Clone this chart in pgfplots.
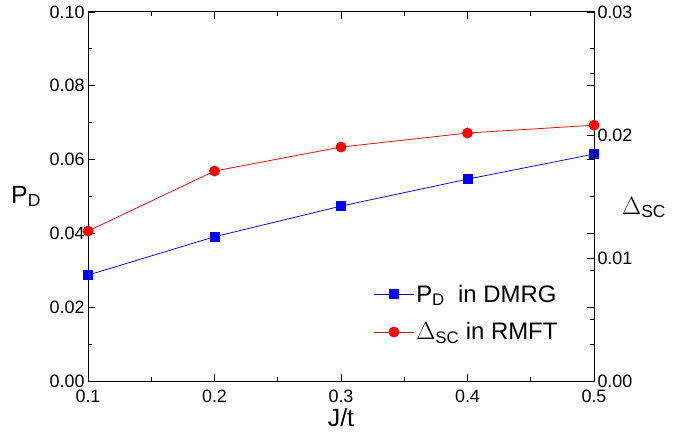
\documentclass[border=0pt]{standalone}
\usepackage{fontspec}
\setmainfont{Liberation Sans}
\usepackage{pgfplots}
\pgfplotsset{compat=1.18}
\begin{document}
\begin{tikzpicture}
\pgfplotsset{
  common/.style={
    scale only axis, width=506bp, height=369bp,
    at={(0,0)}, anchor=south west,
    xmin=0.1, xmax=0.5,
    tick align=inside,
    major tick length=7bp, minor tick length=4bp,
    every tick/.style={black, line width=0.8pt},
    axis line style={line width=1pt},
    /pgf/number format/assume math mode=true,
    tick label style={font=\fontsize{18}{20}\selectfont},
    clip=false,
  }
}
\begin{axis}[common,
  ymin=0, ymax=0.1,
  xtick={0.1,0.2,0.3,0.4,0.5},
  minor xtick={0.15,0.25,0.35,0.45},
  ytick={0,0.02,0.04,0.06,0.08,0.1},
  minor ytick={0.01,0.03,0.05,0.07,0.09},
  xticklabel style={/pgf/number format/.cd,fixed,precision=1, /tikz/yshift=-5bp},
  yticklabel style={/pgf/number format/.cd,fixed,fixed zerofill,precision=2},
  scaled y ticks=false,
  xlabel={J/t},
  xlabel style={font=\fontsize{25}{27}\selectfont, yshift=1bp},
  legend style={draw=none, fill=none, at={(0.56,0.272)}, anchor=north west,
    font=\fontsize{24}{26}\selectfont, row sep=15bp, inner sep=2bp},
  legend cell align=left,
  legend image code/.code={\draw[mark repeat=2,mark phase=2,#1] plot coordinates {(0bp,0bp) (20bp,0bp) (40bp,0bp)};},
]
\addlegendimage{blue, line width=0.75pt, mark=square*, mark size=4.5bp, mark options={solid}}
\addlegendentry{P$_{\mathrm{D}}$\ \ in DMRG}
\addlegendimage{red, line width=0.75pt, mark=*, mark size=5bp}
\addlegendentry{$\Delta_{\mathrm{SC}}$ in RMFT}
\addplot[blue, line width=0.75pt, mark=square*, mark size=4.5bp] coordinates {
(0.1,0.0287) (0.2,0.0391) (0.3,0.0474) (0.4,0.0547) (0.5,0.0615)};
\node[font=\fontsize{25}{27}\selectfont] at (rel axis cs:-0.1225,0.5) {P$_{\mathrm{D}}$};
\node[font=\fontsize{25}{27}\selectfont] at (rel axis cs:1.099,0.47) {$\Delta_{\mathrm{SC}}$};
\end{axis}
\begin{axis}[common,
  axis x line=none, axis y line*=right,
  ymin=0, ymax=0.03,
  ytick={0,0.01,0.02,0.03},
  minor ytick={0.005,0.015,0.025},
  yticklabel style={/pgf/number format/.cd,fixed,fixed zerofill,precision=2},
  scaled y ticks=false,
]
\addplot[red, line width=0.75pt, mark=*, mark size=5bp] coordinates {
(0.1,0.01219) (0.2,0.01707) (0.3,0.01902) (0.4,0.02016) (0.5,0.0208)};
\end{axis}
\pgfresetboundingbox
\path[use as bounding box] (-88bp,-64bp) rectangle (601bp,381bp);
\end{tikzpicture}
\end{document}
